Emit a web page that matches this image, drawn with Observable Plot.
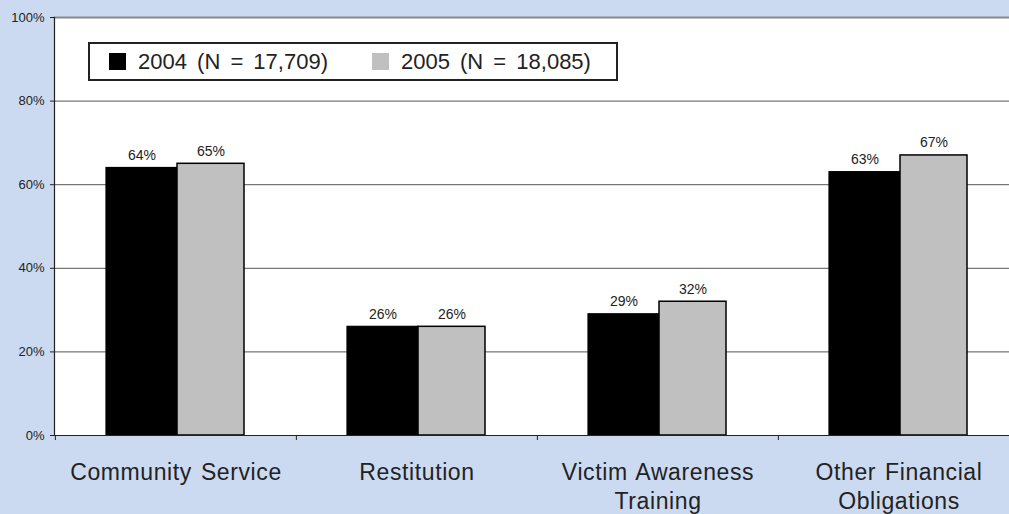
<!DOCTYPE html>
<html>
<head>
<meta charset="utf-8">
<script src="https://cdn.jsdelivr.net/npm/d3@7"></script>
<script src="https://cdn.jsdelivr.net/npm/@observablehq/plot@0.6"></script>
<style>
  html, body { margin: 0; padding: 0; background: #cbdaf0; overflow: hidden; }
  #wrap { position: relative; width: 1009px; height: 514px; font-family: "Liberation Sans", Arial, sans-serif; }
  #legend {
    position: absolute; left: 88px; top: 42px; width: 530px; height: 39px;
    box-sizing: border-box; border: 2px solid #222; background: #fff;
    display: flex; align-items: center; font-size: 22px; color: #222; word-spacing: 4px;
  }
  #legend .item { display: flex; align-items: center; }
  #legend .sw { width: 17px; height: 17px; display: inline-block; margin-right: 12px; }
  g[aria-label="x-axis tick label"] text { letter-spacing: 0.6px; word-spacing: 2px; }
</style>
</head>
<body>
<div id="wrap"></div>
<script>
const categories = ["Community Service", "Restitution", "Victim Awareness Training", "Other Financial Obligations"];
const categoryLabels = ["Community Service", "Restitution", "Victim Awareness\nTraining", "Other Financial\nObligations"];
const values2004 = [64, 26, 29, 63];
const values2005 = [65, 26, 32, 67];
const yTicks = [0, 20, 40, 60, 80, 100];
const gridTicks = [20, 40, 60, 80];
const legendLabels = ["2004 (N = 17,709)", "2005 (N = 18,085)"];
const seriesColors = ["#000000", "#c0c0c0"];

const d2004 = categories.map((c, i) => ({category: c, value: values2004[i]}));
const d2005 = categories.map((c, i) => ({category: c, value: values2005[i]}));
const labelOf = new Map(categories.map((c, i) => [c, categoryLabels[i]]));

const chart = Plot.plot({
  width: 1009,
  height: 514,
  marginLeft: 54,
  marginTop: 17,
  marginBottom: 79,
  marginRight: -10,
  style: {fontFamily: "Liberation Sans, Arial, sans-serif", background: "#cbdaf0", color: "#222", overflow: "visible"},
  x: {domain: categories, padding: 0, axis: null},
  y: {domain: [0, 100], axis: null},
  marks: [
    Plot.frame({fill: "white", stroke: null}),
    Plot.ruleY(gridTicks, {stroke: "#555", strokeWidth: 1}),
    Plot.frame({anchor: "top", stroke: "#888", strokeWidth: 2}),
    Plot.barY(d2004, {x: "category", y: "value", fill: seriesColors[0], stroke: "#000", strokeWidth: 1.2, insetLeft: 51, insetRight: 119}),
    Plot.barY(d2005, {x: "category", y: "value", fill: seriesColors[1], stroke: "#000", strokeWidth: 1.5, insetLeft: 122, insetRight: 52}),
    Plot.text(d2004, {x: "category", y: "value", text: d => d.value + "%", dx: -34, dy: -8, lineAnchor: "bottom", fontSize: 14, fill: "#222"}),
    Plot.text(d2005, {x: "category", y: "value", text: d => d.value + "%", dx: 35, dy: -8, lineAnchor: "bottom", fontSize: 14, fill: "#222"}),
    Plot.ruleY([0], {stroke: "#222", strokeWidth: 1.2}),
    Plot.frame({anchor: "left", stroke: "#222", strokeWidth: 1.2}),
    Plot.axisY({ticks: yTicks, tickFormat: d => d + "%", tickSize: 4, tickPadding: 6, fontSize: 13, stroke: "#222", fill: "#222", label: null}),
    Plot.axisX({tickSize: 0, tickPadding: 24, tickFormat: d => labelOf.get(d), fontSize: 23, lineHeight: 1.25, fill: "#222", label: null}),
    Plot.axisX({tickSize: 5, tickFormat: () => "", dx: -120.625, stroke: "#222", label: null})
  ]
});

const wrap = document.getElementById("wrap");
wrap.appendChild(chart);

const legend = document.createElement("div");
legend.id = "legend";
legendLabels.forEach((lab, i) => {
  const item = document.createElement("div");
  item.className = "item";
  item.style.marginLeft = i === 0 ? "19px" : "44px";
  const sw = document.createElement("span");
  sw.className = "sw";
  sw.style.background = seriesColors[i];
  const t = document.createElement("span");
  t.textContent = lab;
  item.appendChild(sw);
  item.appendChild(t);
  legend.appendChild(item);
});
wrap.appendChild(legend);
</script>
</body>
</html>
